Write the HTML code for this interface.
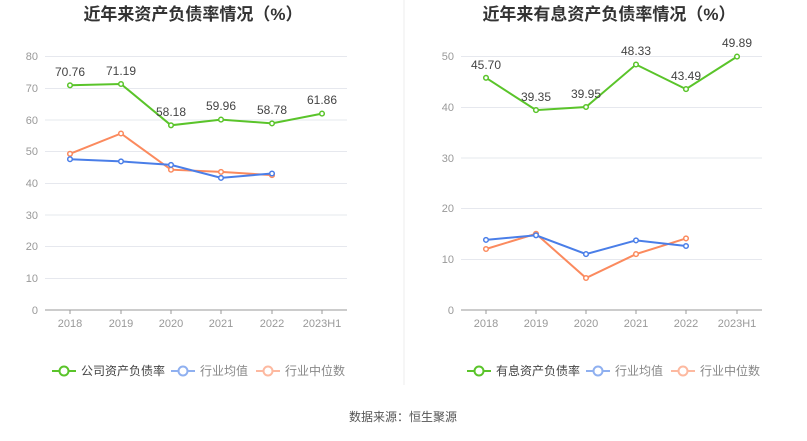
<!DOCTYPE html>
<html><head><meta charset="utf-8"><style>
html,body{margin:0;padding:0;background:#fff;}
svg text{font-family:"Liberation Sans","Noto Sans CJK SC",sans-serif;}
</style></head><body>
<svg width="807" height="436" xmlns="http://www.w3.org/2000/svg">
<line x1="404" y1="0" x2="404" y2="385" stroke="#eee"/>
<text x="193" y="20" font-size="17" font-weight="bold" fill="#333" text-anchor="middle">近年来资产负债率情况（%）</text>
<text x="609" y="20" font-size="17" font-weight="bold" fill="#333" text-anchor="middle">近年来有息资产负债率情况（%）</text>
<g stroke="#e6e8ee" stroke-width="1">
<line x1="45" y1="56.5" x2="347" y2="56.5"/><line x1="45" y1="88.5" x2="347" y2="88.5"/><line x1="45" y1="120" x2="347" y2="120"/><line x1="45" y1="151.5" x2="347" y2="151.5"/><line x1="45" y1="183.5" x2="347" y2="183.5"/><line x1="45" y1="215" x2="347" y2="215"/><line x1="45" y1="246.5" x2="347" y2="246.5"/><line x1="45" y1="278.5" x2="347" y2="278.5"/>
<line x1="461" y1="56.5" x2="762" y2="56.5"/><line x1="461" y1="107.5" x2="762" y2="107.5"/><line x1="461" y1="158" x2="762" y2="158"/><line x1="461" y1="208.5" x2="762" y2="208.5"/><line x1="461" y1="259.5" x2="762" y2="259.5"/>
</g>
<g stroke="#999"><line x1="45" y1="310" x2="347" y2="310"/><line x1="461" y1="310" x2="762" y2="310"/>
<path d="M70 310v4M121 310v4M171 310v4M221 310v4M272 310v4M322 310v4M486 310v4M536 310v4M586 310v4M636 310v4M686 310v4M737 310v4"/></g>
<g font-size="11" fill="#999" text-anchor="end">
<text x="38" y="60">80</text><text x="38" y="92">70</text><text x="38" y="124">60</text><text x="38" y="155">50</text><text x="38" y="187">40</text><text x="38" y="219">30</text><text x="38" y="250">20</text><text x="38" y="282">10</text><text x="38" y="314">0</text>
<text x="454" y="60">50</text><text x="454" y="111">40</text><text x="454" y="162">30</text><text x="454" y="212">20</text><text x="454" y="263">10</text><text x="454" y="314">0</text>
</g>
<g font-size="11" fill="#999" text-anchor="middle">
<text x="70" y="327">2018</text><text x="121" y="327">2019</text><text x="171" y="327">2020</text><text x="221" y="327">2021</text><text x="272" y="327">2022</text><text x="322" y="327">2023H1</text>
<text x="486" y="327">2018</text><text x="536" y="327">2019</text><text x="586" y="327">2020</text><text x="636" y="327">2021</text><text x="686" y="327">2022</text><text x="737" y="327">2023H1</text>
</g>
<g fill="#fff" stroke-width="2">
<polyline points="70,153.8 121,133.5 171,169.7 221,171.9 272,175.1" fill="none" stroke="#fb8a5e"/>
<polyline points="70,159.2 121,161.4 171,164.9 221,177.9 272,173.5" fill="none" stroke="#4a7ee8"/>
<polyline points="70,85.3 121,84 171,125.3 221,119.6 272,123.4 322,113.6" fill="none" stroke="#5ac42a"/>
<polyline points="486,249 536,233.8 586,278 636,254.1 686,238.4" fill="none" stroke="#fb8a5e"/>
<polyline points="486,239.9 536,235.3 586,254.1 636,240.4 686,246" fill="none" stroke="#4a7ee8"/>
<polyline points="486,77.8 536,110.1 586,107 636,64.5 686,89.1 737,56.6" fill="none" stroke="#5ac42a"/>
<g stroke="#fb8a5e" stroke-width="1.5"><circle cx="70" cy="153.8" r="2.3"/><circle cx="121" cy="133.5" r="2.3"/><circle cx="171" cy="169.7" r="2.3"/><circle cx="221" cy="171.9" r="2.3"/><circle cx="272" cy="175.1" r="2.3"/>
<circle cx="486" cy="249" r="2.3"/><circle cx="536" cy="233.8" r="2.3"/><circle cx="586" cy="278" r="2.3"/><circle cx="636" cy="254.1" r="2.3"/><circle cx="686" cy="238.4" r="2.3"/></g>
<g stroke="#4a7ee8" stroke-width="1.5"><circle cx="70" cy="159.2" r="2.3"/><circle cx="121" cy="161.4" r="2.3"/><circle cx="171" cy="164.9" r="2.3"/><circle cx="221" cy="177.9" r="2.3"/><circle cx="272" cy="173.5" r="2.3"/>
<circle cx="486" cy="239.9" r="2.3"/><circle cx="536" cy="235.3" r="2.3"/><circle cx="586" cy="254.1" r="2.3"/><circle cx="636" cy="240.4" r="2.3"/><circle cx="686" cy="246" r="2.3"/></g>
<g stroke="#5ac42a" stroke-width="1.5"><circle cx="70" cy="85.3" r="2.3"/><circle cx="121" cy="84" r="2.3"/><circle cx="171" cy="125.3" r="2.3"/><circle cx="221" cy="119.6" r="2.3"/><circle cx="272" cy="123.4" r="2.3"/><circle cx="322" cy="113.6" r="2.3"/>
<circle cx="486" cy="77.8" r="2.3"/><circle cx="536" cy="110.1" r="2.3"/><circle cx="586" cy="107" r="2.3"/><circle cx="636" cy="64.5" r="2.3"/><circle cx="686" cy="89.1" r="2.3"/><circle cx="737" cy="56.6" r="2.3"/></g>
</g>
<g font-size="12" fill="#444" text-anchor="middle">
<text x="70" y="76">70.76</text><text x="121" y="75">71.19</text><text x="171" y="116">58.18</text><text x="221" y="110">59.96</text><text x="272" y="114">58.78</text><text x="322" y="104">61.86</text>
<text x="486" y="69">45.70</text><text x="536" y="101">39.35</text><text x="586" y="98">39.95</text><text x="636" y="55">48.33</text><text x="686" y="80">43.49</text><text x="737" y="47">49.89</text>
</g>
<g stroke-width="2" fill="#fff" font-size="12">
<line x1="52" y1="371" x2="76" y2="371" stroke="#5ac42a"/><circle cx="64" cy="371" r="4.5" stroke="#5ac42a"/>
<text x="81" y="375" fill="#444" stroke="none">公司资产负债率</text>
<line x1="171" y1="371" x2="195" y2="371" stroke="#8fb0f0"/><circle cx="183" cy="371" r="4.5" stroke="#8fb0f0"/>
<text x="200" y="375" fill="#888" stroke="none">行业均值</text>
<line x1="256" y1="371" x2="280" y2="371" stroke="#fdb9a0"/><circle cx="268" cy="371" r="4.5" stroke="#fdb9a0"/>
<text x="285" y="375" fill="#888" stroke="none">行业中位数</text>
<line x1="467" y1="371" x2="491" y2="371" stroke="#5ac42a"/><circle cx="479" cy="371" r="4.5" stroke="#5ac42a"/>
<text x="496" y="375" fill="#444" stroke="none">有息资产负债率</text>
<line x1="586" y1="371" x2="610" y2="371" stroke="#8fb0f0"/><circle cx="598" cy="371" r="4.5" stroke="#8fb0f0"/>
<text x="615" y="375" fill="#888" stroke="none">行业均值</text>
<line x1="671" y1="371" x2="695" y2="371" stroke="#fdb9a0"/><circle cx="683" cy="371" r="4.5" stroke="#fdb9a0"/>
<text x="700" y="375" fill="#888" stroke="none">行业中位数</text>
</g>
<text x="403" y="421" font-size="12" fill="#555" text-anchor="middle">数据来源：恒生聚源</text>
</svg>
</body></html>
